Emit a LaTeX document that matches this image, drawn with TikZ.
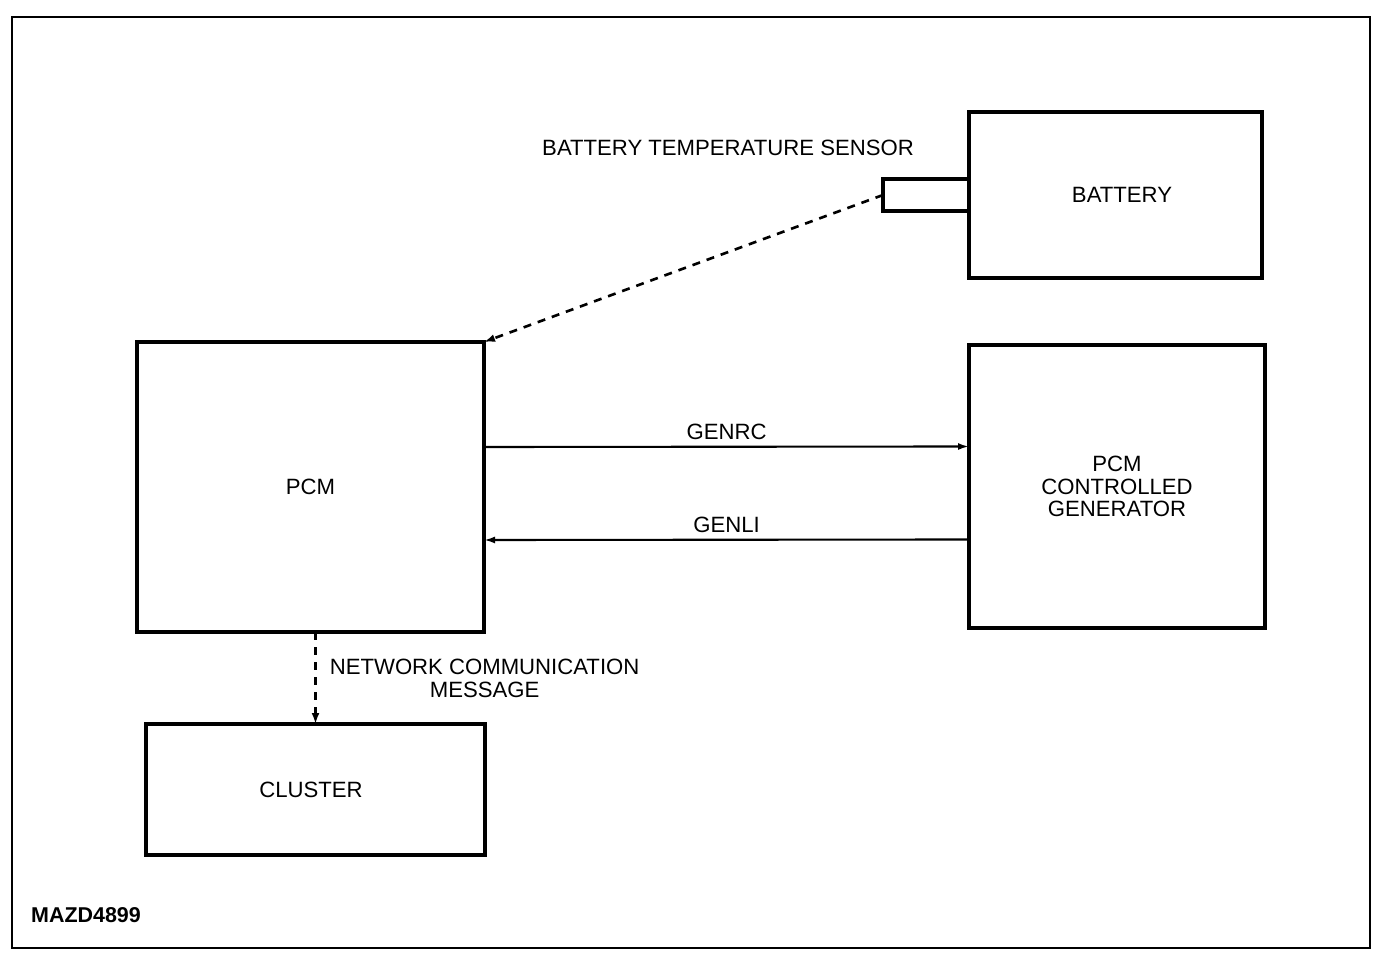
\documentclass[tikz,border=0pt]{standalone}
\usepackage{fontspec}
\setmainfont{Liberation Sans}
\usetikzlibrary{positioning,arrows.meta}
\begin{document}
\begin{tikzpicture}[box/.style={draw, line width=1.9pt, outer sep=0pt, inner sep=0pt, align=center},
  sig/.style={line width=1.2pt, -{Latex[length=2.2mm,width=1.4mm]}},
  link/.style={line width=1.5pt, dash pattern=on 1.6mm off 1.4mm, -{Latex[length=2.2mm,width=1.6mm]}},
  font=\fontsize{12.6}{13}\selectfont]
\useasboundingbox (0,0) rectangle (27.84,19.28);
\node[draw, line width=0.9pt, minimum width=27.16cm, minimum height=18.62cm] (frame) at (13.82,9.63){};
\node[box, minimum width=5.86cm, minimum height=3.32cm] (bat) at (22.31,15.38){\hspace*{2.6mm}BATTERY};
\node[box, minimum width=1.72cm, minimum height=0.64cm, left=0pt of bat] (sens){};
\node[] (senslbl) at (14.56,16.32){BATTERY TEMPERATURE SENSOR};
\node[box, minimum width=6.94cm, minimum height=5.80cm] (pcm) at (6.21,9.54){PCM};
\node[box, minimum width=5.92cm, minimum height=5.66cm] (gen) at (22.34,9.55){PCM\\CONTROLLED\\GENERATOR};
\node[box, minimum width=6.78cm, minimum height=2.62cm] (clu) at (6.31,3.49){CLUSTER\hspace*{1.8mm}};
\node[anchor=west, font=\fontsize{12.2}{13}\selectfont\bfseries] (code) at (0.5,0.98){MAZD4899};
\draw[link](sens.west) -- (pcm.north east);
\draw[sig]([yshift=8mm]pcm.east) -- node[above, midway] (genrc){GENRC} ([yshift=8mm]gen.west);
\draw[sig]([yshift=-10.6mm]gen.west) -- node[above, midway] (genli){GENLI} ([yshift=-10.6mm]pcm.east);
\draw[link](pcm.south -| clu.north) -- node[right, midway, align=center, inner sep=2.6mm] (msg){NETWORK COMMUNICATION\\MESSAGE} (clu.north);

\end{tikzpicture}
\end{document}
